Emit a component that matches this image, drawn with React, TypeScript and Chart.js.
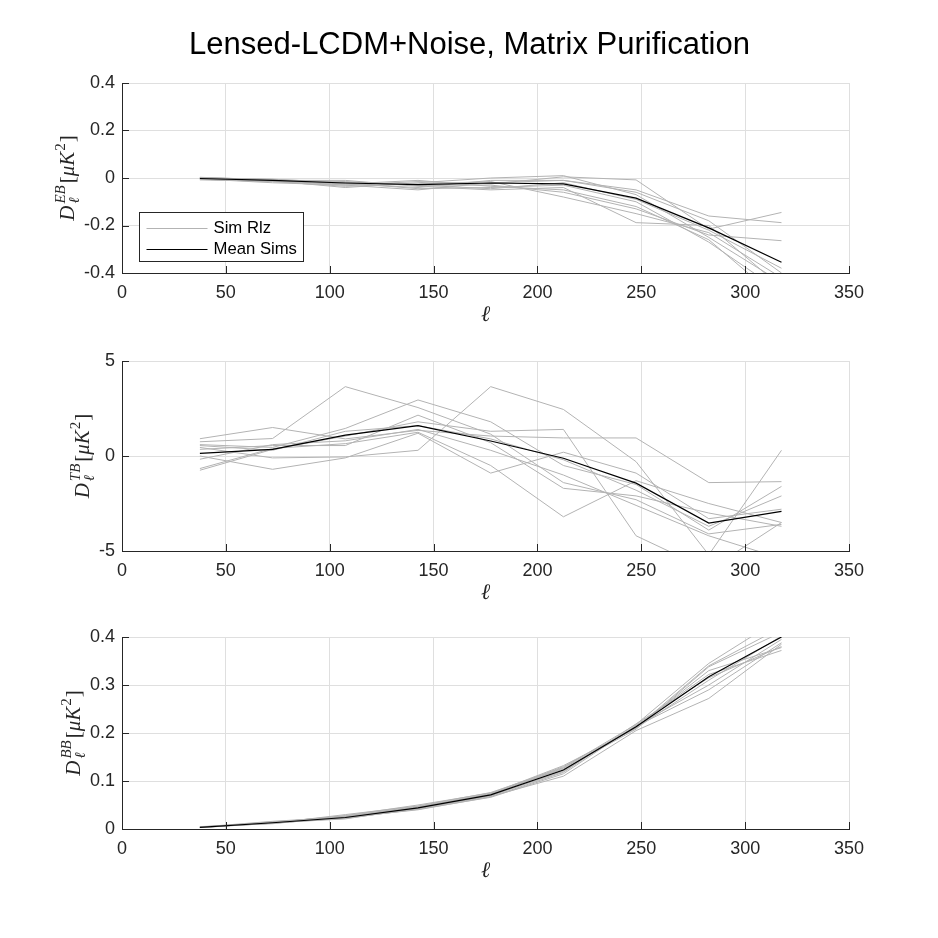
import React, { useEffect, useRef } from "react";
import { Chart, registerables, Plugin } from "chart.js";

Chart.register(...registerables);

// multipole bin centres
const ell = [37.5, 72.5, 107.5, 142.5, 177.5, 212.5, 247.5, 282.5, 317.5];
const xTicks = [0, 50, 100, 150, 200, 250, 300, 350];

// EB
const ebTicks = [-0.4, -0.2, 0, 0.2, 0.4];
const ebMean = [-0.002, -0.01, -0.021, -0.028, -0.021, -0.025, -0.085, -0.21, -0.355];
const ebSims = [
  [0.0, -0.01, -0.03, -0.015, -0.025, 0.005, -0.008, -0.215, -0.145],
  [-0.005, -0.015, -0.025, -0.04, -0.01, -0.01, -0.05, -0.16, -0.188],
  [0.003, -0.008, -0.015, -0.03, -0.03, -0.06, -0.13, -0.24, -0.264],
  [-0.008, -0.012, -0.04, -0.02, 0.0, 0.01, -0.07, -0.25, -0.44],
  [0.0, -0.005, -0.02, -0.045, -0.04, -0.03, -0.1, -0.27, -0.48],
  [-0.006, -0.015, -0.035, -0.025, -0.015, -0.08, -0.15, -0.23, -0.42],
  [0.002, -0.01, -0.01, -0.035, -0.05, -0.04, -0.188, -0.2, -0.46],
  [-0.004, -0.02, -0.03, -0.05, -0.02, -0.01, -0.06, -0.18, -0.4],
  [0.001, -0.006, -0.025, -0.01, -0.035, -0.05, -0.12, -0.26, -0.52],
  [-0.003, -0.012, -0.018, -0.03, -0.045, -0.02, -0.09, -0.22, -0.38],
];

// TB
const tbTicks = [-5, 0, 5];
const tbMean = [0.14, 0.35, 1.1, 1.6, 0.79, -0.12, -1.43, -3.53, -2.91];
const tbSims = [
  [0.91, 1.5, 0.9, 1.35, 1.05, 0.95, 0.95, -1.4, -1.35],
  [0.75, 0.92, 3.65, 2.55, 1.15, -1.4, -2.3, -4.1, -3.6],
  [0.6, 0.45, 1.45, 2.95, 1.8, -0.5, -1.5, -3.9, -1.6],
  [0.45, -0.1, -0.05, 0.3, 3.65, 2.45, -0.3, -5.2, 0.3],
  [0.35, 0.55, 0.55, 2.15, 0.7, -1.7, -2.1, -3.0, -3.7],
  [0.0, -0.7, -0.1, 1.2, -0.9, 0.2, -0.9, -3.3, -2.8],
  [-0.17, 0.6, 0.8, 1.4, 0.3, -1.0, -2.6, -4.2, -5.4],
  [-0.66, 0.4, 0.65, 1.25, -0.5, -3.2, -1.3, -2.5, -3.5],
  [-0.75, 0.35, 1.05, 1.8, 1.3, 1.4, -4.2, -6.0, -3.5],
  [0.55, 0.3, 1.3, 1.6, 0.9, -0.2, -1.8, -3.7, -2.1],
];

// BB
const bbTicks = [0, 0.1, 0.2, 0.3, 0.4];
const bbMean = [0.0035, 0.013, 0.024, 0.044, 0.071, 0.123, 0.213, 0.317, 0.4];
const bbSims = [
  [0.004, 0.012, 0.03, 0.048, 0.076, 0.128, 0.218, 0.345, 0.44],
  [0.003, 0.014, 0.022, 0.042, 0.068, 0.11, 0.205, 0.272, 0.385],
  [0.005, 0.011, 0.026, 0.046, 0.073, 0.13, 0.212, 0.33, 0.378],
  [0.003, 0.015, 0.024, 0.043, 0.07, 0.12, 0.215, 0.3, 0.395],
  [0.004, 0.013, 0.028, 0.05, 0.075, 0.125, 0.208, 0.338, 0.41],
  [0.003, 0.012, 0.023, 0.041, 0.066, 0.115, 0.216, 0.322, 0.372],
  [0.004, 0.016, 0.025, 0.045, 0.074, 0.132, 0.21, 0.31, 0.402],
  [0.003, 0.013, 0.021, 0.044, 0.069, 0.122, 0.214, 0.29, 0.388],
  [0.004, 0.014, 0.027, 0.047, 0.072, 0.127, 0.211, 0.34, 0.42],
  [0.003, 0.012, 0.024, 0.04, 0.067, 0.118, 0.219, 0.315, 0.38],
];

const W = 938;
const H = 938;
const AXIS = "#262626";
const GRID = "#dfdfdf";
const SIM = "#b3b3b3";
const SANS = '"Liberation Sans", Arial, sans-serif';
const SERIF = '"Liberation Serif", "DejaVu Serif", serif';
const TICK_FONT = 18;
const TICK_PAD = 7;

const pts = (ys: number[]) => ell.map((x, i) => ({ x, y: ys[i] }));

interface PanelProps {
  top: number;
  bottom: number;
  spec: string;
  yTicks: number[];
  mean: number[];
  sims: number[][];
  legend?: boolean;
  title?: string;
}

const decorPlugin = (p: PanelProps): Plugin<"line"> => ({
  id: "decor",
  afterDraw(chart) {
    const { ctx, chartArea: a, scales } = chart;
    const xs = scales.x;
    const ys = scales.y;
    ctx.save();

    // inward tick marks
    ctx.strokeStyle = AXIS;
    ctx.lineWidth = 1;
    ctx.beginPath();
    xTicks.forEach((v) => {
      const px = Math.round(xs.getPixelForValue(v)) + 0.5;
      ctx.moveTo(px, a.bottom);
      ctx.lineTo(px, a.bottom - 7);
    });
    p.yTicks.forEach((v) => {
      const py = Math.round(ys.getPixelForValue(v)) + 0.5;
      ctx.moveTo(a.left, py);
      ctx.lineTo(a.left + 7, py);
    });
    ctx.stroke();

    // x label
    ctx.fillStyle = AXIS;
    ctx.font = `italic 22px ${SERIF}`;
    ctx.textAlign = "center";
    ctx.textBaseline = "middle";
    ctx.fillText("\u2113", (a.left + a.right) / 2, a.bottom + 42);

    // y label sits left of the widest tick label
    ctx.font = `${TICK_FONT}px ${SANS}`;
    const tickW = Math.max(...p.yTicks.map((v) => ctx.measureText(String(v)).width));
    const baseX = a.left - TICK_PAD - tickW - 10;

    const big = `italic 21px ${SERIF}`;
    const bigUp = `21px ${SERIF}`;
    const small = `italic 15px ${SERIF}`;
    const smallUp = `15px ${SERIF}`;
    const w = (f: string, s: string) => {
      ctx.font = f;
      return ctx.measureText(s).width;
    };
    const wD = w(big, "D");
    const wScript = Math.max(w(small, p.spec), w(small, "\u2113"));
    const wOpen = w(bigUp, "[");
    const wMuK = w(big, "\u03bcK");
    const wTwo = w(smallUp, "2");
    const wClose = w(bigUp, "]");
    const total = wD + 2 + wScript + 2 + wOpen + wMuK + 1 + wTwo + 1 + wClose;
    ctx.translate(baseX, (a.top + a.bottom) / 2);
    ctx.rotate(-Math.PI / 2);
    ctx.textAlign = "left";
    ctx.textBaseline = "alphabetic";
    let cx = -total / 2;
    ctx.font = big;
    ctx.fillText("D", cx, 0);
    cx += wD + 2;
    ctx.font = small;
    ctx.fillText(p.spec, cx, -9);
    ctx.fillText("\u2113", cx, 5);
    cx += wScript + 2;
    ctx.font = bigUp;
    ctx.fillText("[", cx, 0);
    cx += wOpen;
    ctx.font = big;
    ctx.fillText("\u03bcK", cx, 0);
    cx += wMuK + 1;
    ctx.font = smallUp;
    ctx.fillText("2", cx, -9);
    cx += wTwo + 1;
    ctx.font = bigUp;
    ctx.fillText("]", cx, 0);
    ctx.restore();
    ctx.save();

    if (p.legend) {
      const lx = a.left + 17.5;
      const ly = a.top + 129.5;
      ctx.fillStyle = "#ffffff";
      ctx.fillRect(lx, ly, 164, 49);
      ctx.strokeStyle = AXIS;
      ctx.lineWidth = 1;
      ctx.strokeRect(lx, ly, 164, 49);
      ctx.beginPath();
      ctx.strokeStyle = SIM;
      ctx.moveTo(lx + 7, ly + 16);
      ctx.lineTo(lx + 68, ly + 16);
      ctx.stroke();
      ctx.beginPath();
      ctx.strokeStyle = "#000000";
      ctx.lineWidth = 1.2;
      ctx.moveTo(lx + 7, ly + 37);
      ctx.lineTo(lx + 68, ly + 37);
      ctx.stroke();
      ctx.fillStyle = "#000000";
      ctx.font = `16.7px ${SANS}`;
      ctx.textAlign = "left";
      ctx.textBaseline = "middle";
      ctx.fillText("Sim Rlz", lx + 74, ly + 16);
      ctx.fillText("Mean Sims", lx + 74, ly + 37);
    }

    if (p.title) {
      ctx.fillStyle = "#000000";
      ctx.font = `31px ${SANS}`;
      ctx.textAlign = "center";
      ctx.textBaseline = "alphabetic";
      ctx.fillText(p.title, 469.5, 54);
    }
    ctx.restore();
  },
});

const Panel: React.FC<PanelProps> = (p) => {
  const canvasRef = useRef<HTMLCanvasElement | null>(null);

  useEffect(() => {
    if (!canvasRef.current) return;
    const yMin = p.yTicks[0];
    const yMax = p.yTicks[p.yTicks.length - 1];
    const chart = new Chart(canvasRef.current, {
      type: "line",
      data: {
        datasets: [
          {
            data: pts(p.mean),
            borderColor: "#000000",
            borderWidth: 1.2,
            pointRadius: 0,
            tension: 0,
          },
          ...p.sims.map((s) => ({
            data: pts(s),
            borderColor: SIM,
            borderWidth: 1,
            pointRadius: 0,
            tension: 0,
          })),
        ],
      },
      options: {
        responsive: false,
        animation: false,
        events: [],
        layout: { padding: { top: p.top, right: W - 849, left: 0, bottom: 0 } },
        plugins: { legend: { display: false }, tooltip: { enabled: false } },
        scales: {
          x: {
            type: "linear",
            min: 0,
            max: 350,
            afterBuildTicks: (s) => {
              s.ticks = xTicks.map((v) => ({ value: v }));
            },
            afterFit: (s) => {
              s.height = H - p.bottom;
            },
            ticks: {
              color: AXIS,
              font: { family: SANS, size: TICK_FONT },
              padding: 9,
              maxRotation: 0,
              autoSkip: false,
              callback: (v) => String(v),
            },
            grid: { color: GRID, drawTicks: false },
            border: { display: true, color: AXIS, width: 1 },
          },
          y: {
            type: "linear",
            min: yMin,
            max: yMax,
            afterBuildTicks: (s) => {
              s.ticks = p.yTicks.map((v) => ({ value: v }));
            },
            afterFit: (s) => {
              s.width = 122;
            },
            ticks: {
              color: AXIS,
              font: { family: SANS, size: TICK_FONT },
              padding: TICK_PAD,
              autoSkip: false,
              callback: (v) => String(v),
            },
            grid: { color: GRID, drawTicks: false },
            border: { display: true, color: AXIS, width: 1 },
          },
        },
      },
      plugins: [decorPlugin(p)],
    });
    return () => chart.destroy();
  }, []);

  return (
    <canvas
      ref={canvasRef}
      width={W}
      height={H}
      style={{ position: "absolute", left: 0, top: 0, width: W, height: H }}
    />
  );
};

export default function App() {
  return (
    <div
      style={{
        position: "absolute",
        left: 0,
        top: 0,
        width: W,
        height: H,
        background: "#ffffff",
      }}
    >
      <Panel
        top={83}
        bottom={273}
        spec="EB"
        yTicks={ebTicks}
        mean={ebMean}
        sims={ebSims}
        legend
        title="Lensed-LCDM+Noise, Matrix Purification"
      />
      <Panel top={361} bottom={551} spec="TB" yTicks={tbTicks} mean={tbMean} sims={tbSims} />
      <Panel top={637} bottom={829} spec="BB" yTicks={bbTicks} mean={bbMean} sims={bbSims} />
    </div>
  );
}
